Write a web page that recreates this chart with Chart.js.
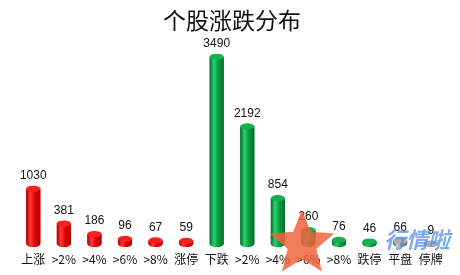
<!DOCTYPE html>
<html>
<head>
<meta charset="utf-8">
<script src="https://cdn.jsdelivr.net/npm/chart.js@4.4.1/dist/chart.umd.min.js"></script>
<style>
  html, body { margin: 0; padding: 0; background: #fff; }
  #wrap { width: 460px; height: 275px; }
</style>
</head>
<body>
<div id="wrap"><canvas id="c" width="460" height="275"></canvas></div>
<script>
// Stock rise/fall distribution
const categories = ['上涨', '>2%', '>4%', '>6%', '>8%', '涨停', '下跌', '>2%', '>4%', '>6%', '>8%', '跌停', '平盘', '停牌'];
const counts = [1030, 381, 186, 96, 67, 59, 3490, 2192, 854, 260, 76, 46, 66, 9];
const groups = ['up', 'up', 'up', 'up', 'up', 'up', 'down', 'down', 'down', 'down', 'down', 'down', 'flat', 'flat'];
const chartTitle = '个股涨跌分布';

const palette = {
  up:   { dark: '#a80000', mid: '#e00000', light: '#ff3a3a', cap: '#ff1e1e' },
  down: { dark: '#006b2a', mid: '#00a040', light: '#2fd070', cap: '#14b04c' },
  flat: { dark: '#6c6c6c', mid: '#9a9a9a', light: '#c8c8c8', cap: '#b0b0b0' }
};

// Cylinder bodies, caps and value labels drawn on top of the library's bar elements
const cylinderPlugin = {
  id: 'cylinders',
  afterDatasetsDraw(chart) {
    const ctx = chart.ctx;
    const meta = chart.getDatasetMeta(0);
    meta.data.forEach((el, i) => {
      const p = palette[groups[i]];
      const w = el.width, x0 = el.x - w / 2, x1 = el.x + w / 2;
      const top = el.y, base = el.base;
      const ry = Math.max(2.5, w * 0.22);
      const g = ctx.createLinearGradient(x0, 0, x1, 0);
      g.addColorStop(0, p.dark);
      g.addColorStop(0.3, p.light);
      g.addColorStop(0.6, p.mid);
      g.addColorStop(1, p.dark);
      ctx.save();
      // body with rounded bottom
      ctx.beginPath();
      ctx.moveTo(x0, top);
      ctx.lineTo(x0, base);
      ctx.ellipse(el.x, base, w / 2, ry, 0, Math.PI, 0, true);
      ctx.lineTo(x1, top);
      ctx.closePath();
      ctx.fillStyle = g;
      ctx.fill();
      // top cap
      ctx.beginPath();
      ctx.ellipse(el.x, top, w / 2, ry, 0, 0, Math.PI * 2);
      ctx.fillStyle = p.cap;
      ctx.fill();
      // value label
      ctx.fillStyle = '#111';
      ctx.font = '12px "Liberation Sans", Arial, sans-serif';
      ctx.textAlign = 'center';
      ctx.textBaseline = 'bottom';
      ctx.fillText(String(counts[i]), el.x, top - ry - 4);
      ctx.restore();
    });
  }
};

// Site watermark over the lower right
const watermarkPlugin = {
  id: 'watermark',
  afterDraw(chart) {
    const ctx = chart.ctx;
    ctx.save();
    ctx.globalAlpha = 0.85;
    // star badge
    const cx = 302, cy = 244, R = 34, r = 15;
    ctx.beginPath();
    for (let k = 0; k < 10; k++) {
      const a = -Math.PI / 2 + k * Math.PI / 5;
      const rad = k % 2 === 0 ? R : r;
      const px = cx + rad * Math.cos(a), py = cy + rad * Math.sin(a);
      if (k === 0) ctx.moveTo(px, py); else ctx.lineTo(px, py);
    }
    ctx.closePath();
    ctx.fillStyle = '#f0643c';
    ctx.fill();
    ctx.globalAlpha = 0.7;
    ctx.fillStyle = '#4a86e8';
    ctx.font = 'italic bold 22px "Noto Sans CJK SC", sans-serif';
    ctx.textAlign = 'left';
    ctx.textBaseline = 'middle';
    ctx.fillText('行情啦', 384, 240);
    ctx.restore();
  }
};

new Chart(document.getElementById('c'), {
  type: 'bar',
  data: {
    labels: categories,
    datasets: [{
      data: counts,
      backgroundColor: groups.map(gk => palette[gk].mid),
      borderWidth: 0,
      categoryPercentage: 0.92,
      barPercentage: 0.5
    }]
  },
  options: {
    responsive: false,
    animation: false,
    devicePixelRatio: 1,
    layout: { padding: { left: 18, right: 14, top: 0, bottom: 9 } },
    plugins: {
      legend: { display: false },
      tooltip: { enabled: false },
      title: {
        display: true,
        text: chartTitle,
        color: '#111',
        font: { family: '"Noto Sans CJK SC", sans-serif', size: 23, weight: 'normal' },
        padding: { top: 6, bottom: 6 }
      }
    },
    scales: {
      x: {
        grid: { display: false },
        border: { display: false },
        ticks: {
          color: '#111',
          autoSkip: false,
          maxRotation: 0,
          padding: 1,
          font: { family: '"Noto Sans CJK SC", "Liberation Sans", sans-serif', size: 12, lineHeight: 1 }
        }
      },
      y: {
        display: false,
        min: 0,
        max: 3810
      }
    }
  },
  plugins: [cylinderPlugin, watermarkPlugin]
});
</script>
</body>
</html>
